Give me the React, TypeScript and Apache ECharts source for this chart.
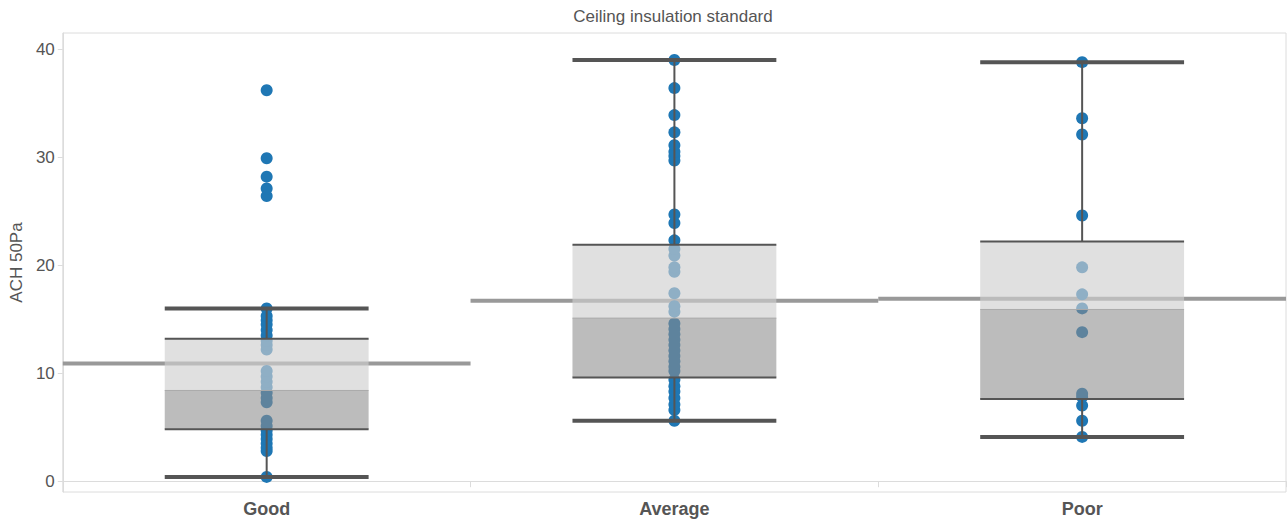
import React, { useEffect, useRef } from "react";
import * as echarts from "echarts";

// Ceiling insulation categories and the air-change readings (ACH at 50 Pa) per house
const categories = ["Good", "Average", "Poor"];

const goodValues = [
  0.4, 2.8, 3.1, 3.5, 3.9, 4.3, 4.7, 5.1, 5.6, 7.3, 7.7, 8.2, 8.7, 9.2, 9.7,
  10.2, 12.2, 12.6, 13.0, 13.5, 14.0, 14.5, 14.9, 15.3, 16.0, 26.4, 27.1, 28.2,
  29.9, 36.2,
];
const averageValues = [
  5.6, 6.6, 7.1, 7.7, 8.3, 8.8, 9.4, 10.2, 10.6, 11.1, 11.6, 12.1, 12.6, 13.1,
  13.6, 14.1, 14.6, 15.7, 16.2, 17.4, 19.4, 19.8, 20.9, 21.5, 22.3, 23.9, 24.7,
  29.7, 30.1, 30.5, 31.1, 32.3, 33.9, 36.4, 39.0,
];
const poorValues = [
  4.1, 5.6, 7.0, 7.8, 8.1, 13.8, 16.0, 17.3, 19.8, 24.6, 32.1, 33.6, 38.8,
];

// Box-and-whisker summary per category, plus the category average
const whiskerLow = [0.4, 5.6, 4.1];
const quartile1 = [4.8, 9.6, 7.6];
const medians = [8.4, 15.1, 15.9];
const quartile3 = [13.2, 21.9, 22.2];
const whiskerHigh = [16.0, 39.0, 38.8];
const averages = [10.9, 16.7, 16.9];

const FONT = "'Liberation Sans', Arial, Helvetica, sans-serif";
const TEXT = "#555555";
const RULE = "#dcdcdc";
const DARK = "#555555";

export default function App() {
  const ref = useRef<HTMLDivElement | null>(null);

  useEffect(() => {
    if (!ref.current) return;
    const chart = echarts.init(ref.current, undefined, { renderer: "svg" });

    const groups = [goodValues, averageValues, poorValues];
    const points: number[][] = [];
    groups.forEach((vals, i) => vals.forEach((v) => points.push([i, v])));

    const boxData = categories.map((_, i) => [
      i,
      whiskerLow[i],
      quartile1[i],
      medians[i],
      quartile3[i],
      whiskerHigh[i],
    ]);
    const meanData = categories.map((_, i) => [i, averages[i]]);

    const option: any = {
      animation: false,
      textStyle: { fontFamily: FONT },
      title: {
        text: "Ceiling insulation standard",
        left: 673,
        top: 8,
        textAlign: "center",
        padding: 0,
        textStyle: {
          fontFamily: FONT,
          fontSize: 17,
          fontWeight: "normal",
          color: TEXT,
        },
      },
      grid: {
        left: 60,
        right: 1,
        top: 33,
        bottom: 29,
        show: true,
        borderColor: RULE,
        borderWidth: 1,
        backgroundColor: "transparent",
      },
      xAxis: {
        type: "category",
        data: categories,
        boundaryGap: true,
        axisLine: { show: true, lineStyle: { color: RULE, width: 1 } },
        axisTick: { show: true, length: 6, lineStyle: { color: RULE } },
        axisLabel: {
          color: TEXT,
          fontSize: 18,
          fontWeight: "bold",
          fontFamily: FONT,
          margin: 8,
        },
        splitLine: { show: false },
      },
      yAxis: {
        type: "value",
        min: -1,
        max: 41.5,
        splitNumber: 5,
        name: "ACH 50Pa",
        nameLocation: "middle",
        nameGap: 36,
        nameTextStyle: { color: TEXT, fontSize: 17, fontFamily: FONT },
        axisLine: { show: true, lineStyle: { color: RULE } },
        axisTick: { show: true, length: 5, lineStyle: { color: RULE } },
        axisLabel: {
          color: TEXT,
          fontSize: 17,
          fontFamily: FONT,
          margin: 8,
          showMinLabel: false,
          showMaxLabel: false,
        },
        splitLine: { show: false },
      },
      series: [
        {
          // category average drawn across the whole category band
          type: "custom",
          z: 1,
          data: meanData,
          encode: { x: 0, y: 1 },
          renderItem: (_params: any, api: any) => {
            const i = api.value(0);
            const band = api.size([1, 0])[0];
            const [cx, y] = api.coord([i, api.value(1)]);
            return {
              type: "line",
              shape: { x1: cx - band / 2, y1: y, x2: cx + band / 2, y2: y },
              style: { stroke: "#999999", lineWidth: 4 },
            };
          },
        },
        {
          type: "scatter",
          z: 2,
          data: points,
          symbol: "circle",
          symbolSize: 12,
          itemStyle: { color: "#1f77b4", opacity: 1 },
        },
        {
          // two-tone box with whisker caps
          type: "custom",
          z: 3,
          data: boxData,
          encode: { x: 0, y: [1, 2, 3, 4, 5] },
          renderItem: (_params: any, api: any) => {
            const i = api.value(0);
            const band = api.size([1, 0])[0];
            const half = band * 0.25;
            const cx = api.coord([i, 0])[0];
            const yLow = api.coord([i, api.value(1)])[1];
            const yQ1 = api.coord([i, api.value(2)])[1];
            const yMed = api.coord([i, api.value(3)])[1];
            const yQ3 = api.coord([i, api.value(4)])[1];
            const yHigh = api.coord([i, api.value(5)])[1];
            const x0 = cx - half;
            const x1 = cx + half;
            const hline = (y: number, w: number, c: string) => ({
              type: "line",
              shape: { x1: x0, y1: y, x2: x1, y2: y },
              style: { stroke: c, lineWidth: w },
            });
            const vline = (ya: number, yb: number) => ({
              type: "line",
              shape: { x1: cx, y1: ya, x2: cx, y2: yb },
              style: { stroke: DARK, lineWidth: 2 },
            });
            return {
              type: "group",
              children: [
                {
                  type: "rect",
                  shape: { x: x0, y: yMed, width: x1 - x0, height: yQ1 - yMed },
                  style: { fill: "rgba(140,140,140,0.585)" },
                },
                {
                  type: "rect",
                  shape: { x: x0, y: yQ3, width: x1 - x0, height: yMed - yQ3 },
                  style: { fill: "rgba(207,207,207,0.64)" },
                },
                hline(yMed, 1, "#aaaaaa"),
                vline(yQ3, yHigh),
                vline(yQ1, yLow),
                hline(yQ3, 2, DARK),
                hline(yQ1, 2, DARK),
                hline(yHigh, 4, DARK),
                hline(yLow, 4, DARK),
              ],
            };
          },
        },
      ],
    };

    chart.setOption(option);
    return () => chart.dispose();
  }, []);

  return (
    <div
      ref={ref}
      style={{
        position: "fixed",
        left: 0,
        top: 0,
        width: 1287,
        height: 521,
        background: "#ffffff",
      }}
    />
  );
}
